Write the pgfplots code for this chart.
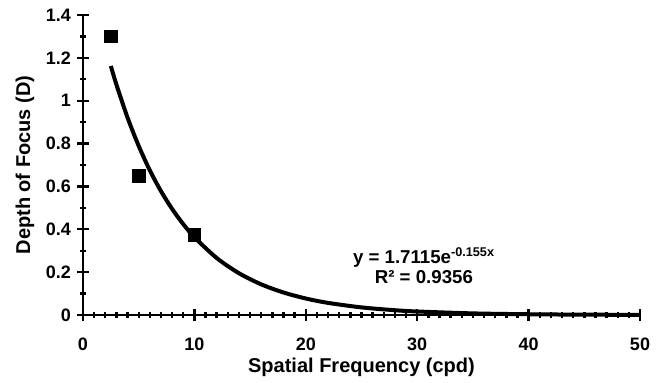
\documentclass[border=0pt]{standalone}
\usepackage{fontspec}
\setmainfont{Liberation Sans}
\usepackage{pgfplots}
\pgfplotsset{compat=1.18}
\begin{document}
\begin{tikzpicture}
\begin{axis}[
  scale only axis,
  width=417.75pt, height=225pt,
  xmin=0, xmax=50, ymin=0, ymax=1.4,
  axis lines=left,
  axis line style={-, line width=2.2pt},
  xtick={0,10,20,30,40,50},
  ytick={0,0.2,0.4,0.6,0.8,1,1.2,1.4},
  minor x tick num=9,
  minor y tick num=1,
  tick align=center,
  major tick length=9pt,
  minor tick length=4.5pt,
  every tick/.style={black, line width=1.8pt},
  tick label style={font=\bfseries\fontsize{13.5}{15}\selectfont},
  /pgf/number format/assume math mode=true,
  yticklabel style={/pgf/number format/fixed, /pgf/number format/precision=1, xshift=-1pt},
  xticklabel style={yshift=-9pt},
  xlabel={Spatial Frequency (cpd)},
  ylabel={Depth of Focus (D)},
  label style={font=\bfseries\fontsize{15}{17}\selectfont},
  xlabel style={at={(axis description cs:0.5,-0.1733)}, anchor=center},
  ylabel style={at={(axis description cs:-0.1041,0.5)}, anchor=center},
  clip=false,
]
\coordinate (bl) at (rel axis cs:0,0);
\coordinate (tr) at (rel axis cs:1,1);
\addplot[only marks, mark=square*, mark size=4.75pt, black] coordinates {
  (2.5,1.30) (5,0.65) (10,0.375)
};
\addplot[black, line width=3pt, smooth] coordinates {
  (2.5,1.162) (3,1.075) (4,0.921) (5,0.789) (6,0.675) (7,0.578) (8,0.495)
  (9,0.424) (10,0.363) (12,0.266) (14,0.195) (16,0.143) (18,0.105)
  (20,0.077) (22,0.0565) (25,0.0355) (28,0.0223) (30,0.0164)
  (35,0.0075) (40,0.0035) (45,0.0016) (50,0.0007)
};
\node[font=\bfseries\fontsize{14}{15}\selectfont, align=center, inner sep=0pt] at (axis cs:30.6,0.23)
  {y = 1.7115e\textsuperscript{\fontsize{9.5}{10}\selectfont -0.155x}\\[0pt] R² = 0.9356};
\end{axis}
\pgfresetboundingbox
\path[use as bounding box] ([shift={(-62.25pt,-50.25pt)}]bl) rectangle ([shift={(12pt,11.25pt)}]tr);
\end{tikzpicture}
\end{document}
